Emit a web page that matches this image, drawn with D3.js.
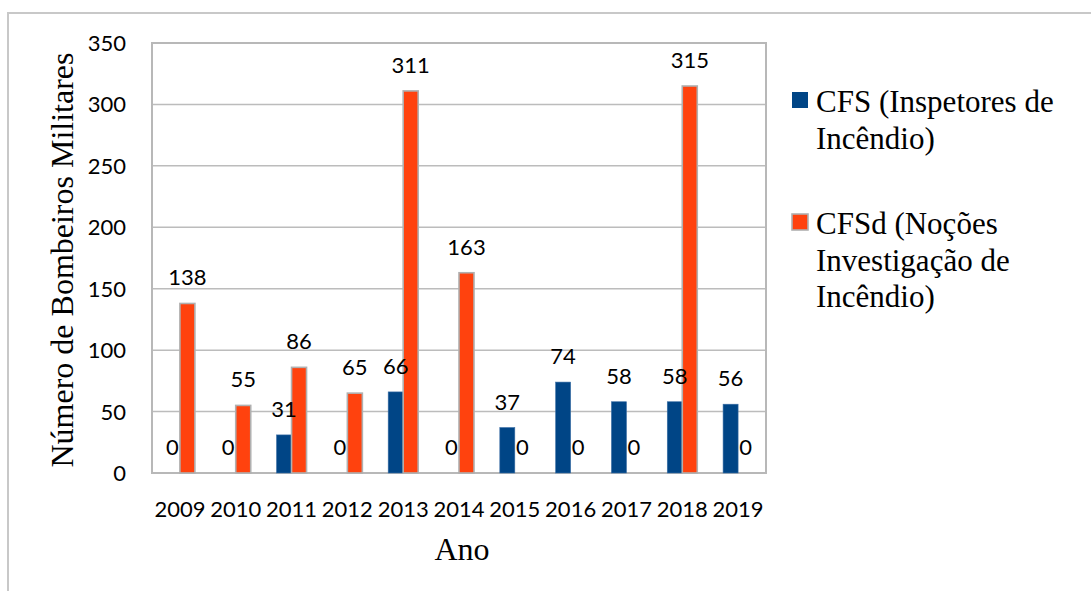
<!DOCTYPE html>
<html>
<head>
<meta charset="utf-8">
<script src="https://cdn.jsdelivr.net/npm/d3@7"></script>
<style>
  html, body { margin: 0; padding: 0; background: #fff; }
  svg { display: block; }
</style>
</head>
<body>
<svg id="chart" width="1091" height="591"></svg>
<script>
// Cursos de formação: bombeiros militares por ano
const years = ["2009","2010","2011","2012","2013","2014","2015","2016","2017","2018","2019"];
const seriesNames = ["CFS (Inspetores de Incêndio)", "CFSd (Noções Investigação de Incêndio)"];
const cfs  = [0, 0, 31, 0, 66, 0, 37, 74, 58, 58, 56];
const cfsd = [138, 55, 86, 65, 311, 163, 0, 0, 0, 315, 0];
const yTicks = [0, 50, 100, 150, 200, 250, 300, 350];
const legendLines = [["CFS (Inspetores de", "Incêndio)"], ["CFSd (Noções", "Investigação de", "Incêndio)"]];
const colors = ["#004586", "#ff420e"];

const svg = d3.select("#chart");
const plotLeft = 152, plotRight = 766, plotTop = 43, plotBottom = 473;
const numFont = "Lato, 'Open Sans', sans-serif";
const serif = "'Liberation Serif', 'DejaVu Serif', serif";

// outer frame (top and left edges visible)
svg.append("path")
  .attr("d", "M8,600 V13 H1100")
  .attr("fill", "none").attr("stroke", "#c8c8c8").attr("stroke-width", 2);

const x = d3.scaleBand().domain(years).range([plotLeft, plotRight]).padding(0);
const barW = 15;
const xs = d3.scaleBand().domain([0, 1]).range([-barW, barW]);
const y = d3.scaleLinear().domain([0, 350]).range([plotBottom, plotTop]);

// gridlines
svg.append("g").selectAll("line").data(yTicks.slice(1, -1)).join("line")
  .attr("x1", plotLeft).attr("x2", plotRight)
  .attr("y1", d => y(d)).attr("y2", d => y(d))
  .attr("stroke", "#bcbcbc").attr("stroke-width", 1.5);

// plot border
svg.append("rect")
  .attr("x", plotLeft).attr("y", plotTop)
  .attr("width", plotRight - plotLeft).attr("height", plotBottom - plotTop)
  .attr("fill", "none").attr("stroke", "#b8b8b8").attr("stroke-width", 2);

// y tick labels
svg.append("g").selectAll("text").data(yTicks).join("text")
  .attr("x", 126).attr("y", d => y(d) + 8)
  .attr("text-anchor", "end")
  .style("font-family", numFont).style("font-size", "22px").attr("fill", "#000")
  .text(d => d);

// x tick labels
svg.append("g").selectAll("text").data(years).join("text")
  .attr("x", d => x(d) + x.bandwidth() / 2).attr("y", 517)
  .attr("text-anchor", "middle")
  .style("font-family", numFont).style("font-size", "22px").attr("fill", "#000")
  .text(d => d);

// bars
const rows = [];
years.forEach((yr, i) => {
  rows.push({ year: yr, s: 0, v: cfs[i] });
  rows.push({ year: yr, s: 1, v: cfsd[i] });
});

svg.append("g").selectAll("rect").data(rows.filter(d => d.v > 0)).join("rect")
  .attr("x", d => x(d.year) + x.bandwidth() / 2 + xs(d.s))
  .attr("y", d => y(d.v))
  .attr("width", xs.bandwidth())
  .attr("height", d => y(0) - y(d.v))
  .attr("fill", d => colors[d.s])
  .attr("stroke", d => d.s === 1 ? "#b0b0b0" : "#3a6ea5")
  .attr("stroke-width", d => d.s === 1 ? 1.6 : 0.6);

// value labels
svg.append("g").selectAll("text").data(rows).join("text")
  .attr("x", d => x(d.year) + x.bandwidth() / 2 + xs(d.s) + xs.bandwidth() / 2)
  .attr("y", d => y(d.v) - 18)
  .attr("text-anchor", "middle")
  .style("font-family", numFont).style("font-size", "22px").attr("fill", "#000")
  .text(d => d.v);

// axis titles
svg.append("text")
  .attr("transform", "translate(73,260) rotate(-90)")
  .attr("text-anchor", "middle")
  .style("font-family", serif).style("font-size", "32px").attr("fill", "#000")
  .text("Número de Bombeiros Militares");

svg.append("text")
  .attr("x", 462).attr("y", 560)
  .attr("text-anchor", "middle")
  .style("font-family", serif).style("font-size", "32px").attr("fill", "#000")
  .text("Ano");

// legend
const legendTop = [92, 214];
const lg = svg.append("g");
seriesNames.forEach((name, i) => {
  const g = lg.append("g").attr("transform", `translate(792,${legendTop[i]})`);
  g.append("rect").attr("width", 16).attr("height", 16)
    .attr("fill", colors[i])
    .attr("stroke", i === 1 ? "#b0b0b0" : "none").attr("stroke-width", 1.6);
  g.selectAll("text").data(legendLines[i]).join("text")
    .attr("x", 24).attr("y", (d, j) => 20 + j * 36.5)
    .style("font-family", serif).style("font-size", "31px").attr("fill", "#000")
    .text(d => d);
});
</script>
</body>
</html>
